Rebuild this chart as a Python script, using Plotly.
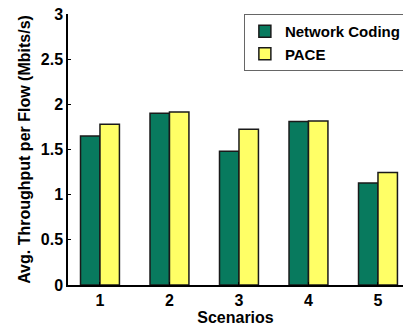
import plotly.graph_objects as go

scenarios = [1, 2, 3, 4, 5]
network_coding = [1.65, 1.90, 1.48, 1.81, 1.13]
pace = [1.78, 1.915, 1.725, 1.815, 1.245]
y_ticks = [0, 0.5, 1, 1.5, 2, 2.5, 3]
y_tick_labels = ["0", "0.5", "1", "1.5", "2", "2.5", "3"]

font_family = "Liberation Sans, Arial, sans-serif"

fig = go.Figure()
fig.add_trace(go.Bar(x=scenarios, y=network_coding, name="<b>Network Coding</b>",
                     marker=dict(color="#087a5e", line=dict(color="#1a1a1a", width=1.5))))
fig.add_trace(go.Bar(x=scenarios, y=pace, name="<b>PACE</b>",
                     marker=dict(color="#ffff66", line=dict(color="#1a1a1a", width=1.5))))

fig.update_layout(
    width=403, height=326,
    margin=dict(l=68, r=0, t=14, b=41, autoexpand=False),
    paper_bgcolor="white", plot_bgcolor="white",
    barmode="group", bargap=0.44, bargroupgap=0,
    font=dict(family=font_family, size=16, color="black"),
    showlegend=True,
    legend=dict(x=0.525, y=1.0, xanchor="left", yanchor="top",
                bgcolor="white", bordercolor="#666666", borderwidth=1,
                font=dict(size=15, family=font_family, color="black"),
                tracegroupgap=0, itemwidth=30),
    xaxis=dict(range=[0.54, 5.36], tickvals=scenarios,
               ticktext=[f"<b>{s}</b>" for s in scenarios],
               showline=True, linecolor="black", linewidth=1.5,
               ticks="inside", ticklen=3, tickcolor="black",
               showgrid=False, zeroline=False,
               title=dict(text="<b>Scenarios</b>", font=dict(size=16), standoff=2),
               tickfont=dict(size=16)),
    yaxis=dict(range=[0, 3], tickvals=y_ticks,
               ticktext=[f"<b>{t}</b>" for t in y_tick_labels],
               showline=True, linecolor="black", linewidth=1.5,
               ticks="inside", ticklen=3, tickcolor="black",
               showgrid=False, zeroline=False,
               title=dict(text="<b>Avg. Throughput per Flow (Mbits/s)</b>", font=dict(size=16), standoff=6),
               tickfont=dict(size=16)),
)

fig.write_html("out.html",
               config={"displayModeBar": False},
               post_script="document.body.style.margin='0';document.body.style.overflow='hidden';")
